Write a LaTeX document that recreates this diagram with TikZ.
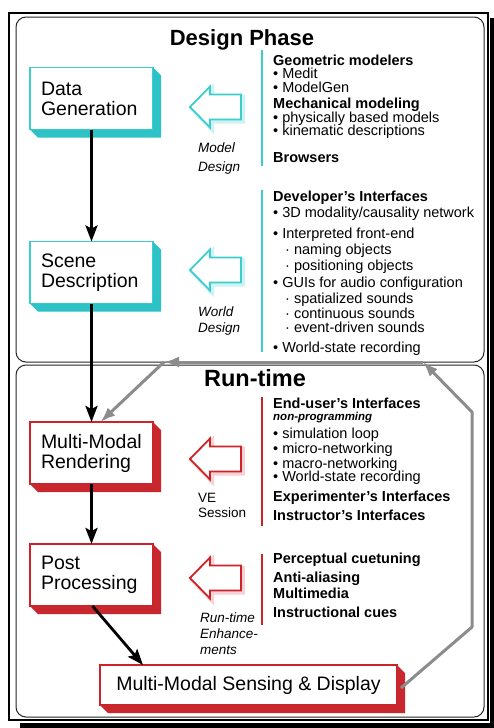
\documentclass[tikz,border=0pt]{standalone}
\usepackage{fontspec}
\setmainfont{Liberation Sans}
\usetikzlibrary{arrows.meta}
\definecolor{cyb}{RGB}{60,205,205}
\definecolor{cys}{RGB}{45,195,198}
\definecolor{rdb}{RGB}{205,35,40}
\definecolor{rds}{RGB}{200,40,45}
\definecolor{grl}{RGB}{140,140,140}
\newcommand\boxsides[2]{%
  \fill[#2] (#1.north east) -- ++(8,8) -- ([shift={(8,8)}]#1.south east)
    -- ([shift={(8,8)}]#1.south west) -- (#1.south west) -- (#1.south east) -- cycle;}
\newcommand\blockarrow[3]{%
  \draw[#3, line width=4, line join=miter] (192,#1+2) -- (212,#1-18.5) -- (212,#1-10.5) -- (243,#1-10.5) -- (243,#1+14.5) -- (212,#1+14.5) -- (212,#1+22.5) -- cycle;
  \draw[#2, fill=white, line width=1.8, line join=miter] (190,#1) -- (210,#1-20.5) -- (210,#1-12.5) -- (241,#1-12.5) -- (241,#1+12.5) -- (210,#1+12.5) -- (210,#1+20.5) -- cycle;}
\begin{document}
\begin{tikzpicture}[x=1pt,y=-1pt,
  fbox/.style={rectangle, draw=#1, fill=white, line width=1.3, outer sep=0,
    minimum width=123, minimum height=62, inner xsep=11, inner ysep=0,
    text width=101, align=left, font=\fontsize{19.5}{20}\selectfont},
  blk/.style={draw=black, line width=2.8, -{Stealth[length=16pt, width=12pt, inset=3pt]}},
  gra/.style={draw=grl, line width=3, line join=round, -{Latex[length=15pt, width=11pt]}},
  tx/.style={anchor=base west, inner sep=0, font=\fontsize{14.5}{16}\selectfont},
  hd/.style={anchor=base west, inner sep=0, font=\bfseries\fontsize{14.5}{16}\selectfont},
  lab/.style={anchor=base west, inner sep=0, font=\itshape\fontsize{13.5}{15}\selectfont},
  ttl/.style={anchor=base, inner sep=0, font=\bfseries\fontsize{22}{24}\selectfont}]
\useasboundingbox (0,0) rectangle (494,728);
% frame
\fill[white] (0,0) rectangle (494,728);
\fill[black] (20,18) rectangle (494,728);
\fill[white] (9,13) rectangle (490,723);
\draw[line width=1.5] (9,13) rectangle (488,720);
% panels
\draw[black!85, line width=1, rounded corners=10] (16,17) rectangle (484,362);
\draw[black!85, line width=1, rounded corners=10] (16,365) rectangle (484,717);
% titles
\node[ttl] (t1) at (242,45) {Design Phase};
\node[ttl, font=\bfseries\fontsize{23.5}{25}\selectfont] (t2) at (255,386) {Run-time};
% boxes
\node[fbox=cyb] (dg) at (91.5,98.5) {Data\\Generation};
\node[fbox=cyb] (sd) at (91.5,272.5) {Scene\\Description};
\node[fbox=rdb] (mmr) at (91.5,453) {Multi-Modal\\Rendering};
\node[fbox=rdb] (pp) at (91.5,575) {Post\\Processing};
\node[fbox=rdb, minimum width=297, minimum height=40, text width=, align=center] (mmsd) at (248.5,685) {Multi-Modal Sensing \& Display};
\boxsides{dg}{cys}
\boxsides{sd}{cys}
\boxsides{mmr}{rds}
\boxsides{pp}{rds}
\boxsides{mmsd}{rds}
% black arrows
\draw[blk] (dg.south) -- (sd.north);
\draw[blk] (sd.south) -- (mmr.north);
\draw[blk] (mmr.south) -- (pp.north);
\draw[blk] ([xshift=1]pp.south) -- ([xshift=43]mmsd.north west);
% gray feedback
\coordinate (g1) at (472,627);
\coordinate (g2) at (472,412);
\coordinate (g3) at (423,362);
\coordinate (g4) at (164,362);
\draw[gra] ([shift={(4,3)}]mmsd.east) -- (g1) -- (g2) -- (g3);
\draw[gra] (g3) -- (g4);
\draw[gra] (g4) -- ([xshift=9]mmr.north);
% block arrows
\blockarrow{107}{cyb}{cyb!25}
\blockarrow{270}{cyb}{cyb!25}
\blockarrow{459}{rdb}{rdb!20}
\blockarrow{578}{rdb}{rdb!20}
% arrow labels
\node[lab] (l1) at (198,152) {Model};
\node[lab] (l2) at (198,171) {Design};
\node[lab] (l3) at (198,316) {World};
\node[lab] (l4) at (198,332) {Design};
\node[lab, font=\fontsize{13.5}{15}\selectfont] (l5) at (198,502) {VE};
\node[lab, font=\fontsize{13.5}{15}\selectfont] (l6) at (198,517) {Session};
\node[lab] (l7) at (200,622) {Run-time};
\node[lab] (l8) at (200,638) {Enhance-};
\node[lab] (l9) at (200,654) {ments};
% vertical bars
\draw[cyb, line width=2.2] (262,50) -- (262,166);
\draw[cyb, line width=2.2] (262,190) -- (262,352);
\draw[rdb, line width=2.2] (262,397) -- (262,526);
\draw[rdb, line width=2.2] (262,554) -- (262,625);
% design block 1
\node[hd] (a1) at (273,65) {Geometric modelers};
\node[tx] (a2) at (273,78) {\textbullet\ Medit};
\node[tx] (a3) at (273,92) {\textbullet\ ModelGen};
\node[hd] (a4) at (273,108) {Mechanical modeling};
\node[tx] (a5) at (273,122) {\textbullet\ physically based models};
\node[tx] (a6) at (273,135) {\textbullet\ kinematic descriptions};
\node[hd] (a7) at (273,162) {Browsers};
% design block 2
\node[hd] (b1) at (273,201) {Developer's Interfaces};
\node[tx] (b2) at (273,217) {\textbullet\ 3D modality/causality network};
\node[tx] (b3) at (273,238) {\textbullet\ Interpreted front-end};
\node[tx] (b4) at (285,254) {\textperiodcentered\ naming objects};
\node[tx] (b5) at (285,270) {\textperiodcentered\ positioning objects};
\node[tx] (b6) at (273,287) {\textbullet\ GUIs for audio configuration};
\node[tx] (b7) at (285,303) {\textperiodcentered\ spatialized sounds};
\node[tx] (b8) at (285,318) {\textperiodcentered\ continuous sounds};
\node[tx] (b9) at (285,332) {\textperiodcentered\ event-driven sounds};
\node[tx] (b10) at (273,352) {\textbullet\ World-state recording};
% runtime block 1
\node[hd] (c1) at (273,408) {End-user's Interfaces};
\node[hd, font=\bfseries\itshape\fontsize{11.5}{13}\selectfont] (c2) at (273,420) {non-programming};
\node[tx] (c3) at (273,438) {\textbullet\ simulation loop};
\node[tx] (c4) at (273,453) {\textbullet\ micro-networking};
\node[tx] (c5) at (273,468) {\textbullet\ macro-networking};
\node[tx] (c6) at (273,481) {\textbullet\ World-state recording};
\node[hd] (c7) at (273,501) {Experimenter's Interfaces};
\node[hd] (c8) at (273,520) {Instructor's Interfaces};
% runtime block 2
\node[hd] (d1) at (273,563) {Perceptual cuetuning};
\node[hd] (d2) at (273,582) {Anti-aliasing};
\node[hd] (d3) at (273,598) {Multimedia};
\node[hd] (d4) at (273,617) {Instructional cues};
\end{tikzpicture}
\end{document}
